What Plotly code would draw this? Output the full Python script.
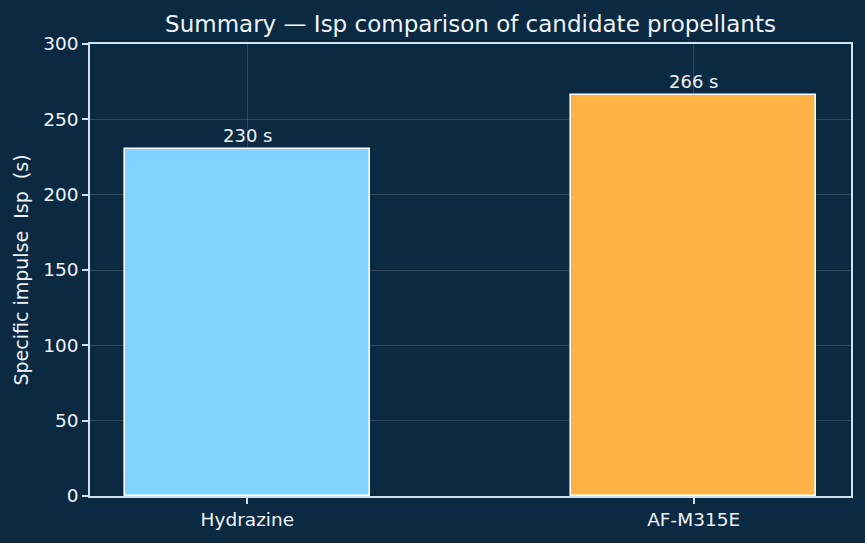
import plotly.graph_objects as go

categories = ["Hydrazine", "AF-M315E"]
isp_values = [230, 266]
bar_labels = ["230 s", "266 s"]
bar_colors = ["#80d4ff", "#ffb347"]
y_ticks = [0, 50, 100, 150, 200, 250, 300]

BG = "#0c2942"
FG = "#eef4fa"
SPINE = "#cfe3f5"
GRID = "rgba(255,255,255,0.14)"
FONT = "DejaVu Sans"

fig = go.Figure()
fig.add_trace(go.Bar(
    x=[0, 1],
    y=isp_values,
    width=0.55,
    marker=dict(color=bar_colors, line=dict(color="#ffffff", width=1.6)),
))

for i, (v, lab) in enumerate(zip(isp_values, bar_labels)):
    fig.add_annotation(
        x=i, y=v, text=lab, showarrow=False,
        xanchor="center", yanchor="bottom", yshift=1,
        font=dict(family=FONT, size=18, color=FG),
    )

fig.update_layout(
    width=865, height=543,
    paper_bgcolor=BG, plot_bgcolor=BG,
    margin=dict(l=90, r=14, t=44, b=47),
    showlegend=False,
    font=dict(family=FONT, color=FG, size=18.5),
    title=dict(
        text="Summary \u2014 Isp comparison of candidate propellants",
        font=dict(family=FONT, size=23, color=FG),
        x=(90 + 851) / 2 / 865, xanchor="center",
        xref="container", yref="container",
        y=1 - 24 / 543, yanchor="middle",
    ),
    bargap=0,
)

fig.update_xaxes(
    range=[-0.3525, 1.3525],
    tickmode="array", tickvals=[0, 1], ticktext=categories,
    showline=True, mirror=True, linecolor=SPINE, linewidth=1.6,
    ticks="outside", ticklen=6, tickwidth=1.6, tickcolor=SPINE,
    showgrid=True, gridcolor=GRID, gridwidth=1,
    zeroline=False,
    layer="above traces",
    tickfont=dict(family=FONT, size=18.5, color=FG),
)
fig.update_yaxes(
    range=[0, 300],
    tickmode="array", tickvals=y_ticks,
    showline=True, mirror=True, linecolor=SPINE, linewidth=1.6,
    ticks="outside", ticklen=6, tickwidth=1.6, tickcolor=SPINE,
    showgrid=True, gridcolor=GRID, gridwidth=1,
    zeroline=False,
    layer="above traces",
    tickfont=dict(family=FONT, size=18.5, color=FG),
    title=dict(
        text="Specific impulse\u00a0\u00a0Isp\u00a0\u00a0(s)",
        font=dict(family=FONT, size=19, color=FG),
        standoff=10,
    ),
)

fig.write_html("out.html")
